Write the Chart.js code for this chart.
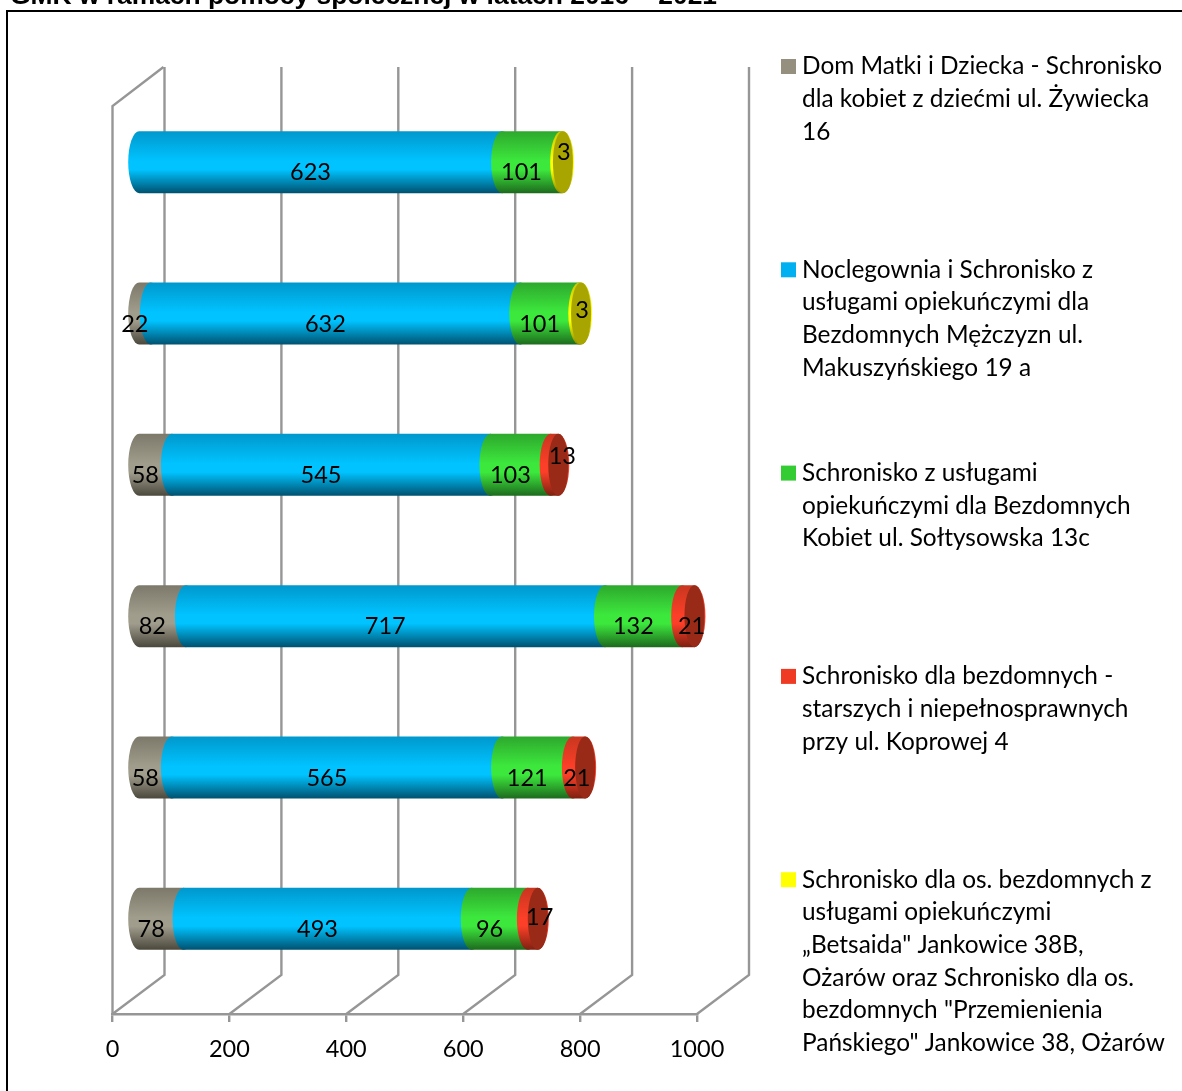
<!DOCTYPE html>
<html lang="pl">
<head>
<meta charset="utf-8">
<title>GMK</title>
<script src="https://cdn.jsdelivr.net/npm/chart.js@4"></script>
<style>html,body{margin:0;padding:0;background:#fff;overflow:hidden}canvas{display:block}</style>
</head>
<body>
<canvas id="c" width="1182" height="1091"></canvas>
<script>
const categories = ['2016','2017','2018','2019','2020','2021'];
const domMatki   = [78, 58, 82, 58, 22, null];
const noclegownia= [493, 565, 717, 545, 632, 623];
const soltysowska= [96, 121, 132, 103, 101, 101];
const koprowa    = [17, 21, 21, 13, null, null];
const betsaida   = [null, null, null, null, 3, 3];
const seriesNames = ['Dom Matki i Dziecka','Noclegownia i Schronisko','Schronisko Sołtysowska','Schronisko Koprowa','Betsaida'];
const chartTitle = 'GMK w ramach pomocy społecznej w latach 2016 – 2021';
const legendLines = [
  ['Dom Matki i Dziecka - Schronisko','dla kobiet z dziećmi ul. Żywiecka','16'],
  ['Noclegownia i Schronisko z','usługami opiekuńczymi dla','Bezdomnych Mężczyzn ul.','Makuszyńskiego 19 a'],
  ['Schronisko z usługami','opiekuńczymi dla Bezdomnych','Kobiet ul. Sołtysowska 13c'],
  ['Schronisko dla bezdomnych -','starszych i niepełnosprawnych','przy ul. Koprowej 4'],
  ['Schronisko dla os. bezdomnych z','usługami opiekuńczymi','„Betsaida" Jankowice 38B,','Ożarów oraz Schronisko dla os.','bezdomnych "Przemienienia','Pańskiego" Jankowice 38, Ożarów']
];
const swatches = ['#948f7e','#00b0f0','#33cc33','#ef3b24','#ffff00'];
const shades = [
  ['#7c796a','#a09d8d','#4a473c'],
  ['#0098cc','#00c3ff','#00516f'],
  ['#2da82d','#3de83d','#1d6a1d'],
  ['#c8361f','#fb3f28','#7e2010'],
  ['#c8c800','#ffff00','#8a8a00']
];
const capColors = ['#6f6c5e','#00739e','#1f8a1f','#982a17','#a9a500'];
const labelNudge = {'3:0':[17,-12],'3:1':[8,0],'3:2':[13.4,0],'3:3':[18,-19],'4:4':[12,-14],'4:5':[12,-20]};

const FONT = 'Lato, Carlito, sans-serif';
const GRID = '#969696';
const DEPTH_X = 52, DEPTH_Y = 39, RX = 11;
const BAR_DX = 25.5, BAR_DY = 19.5;

const scene = {
  id: 'scene',
  beforeDraw(chart) {
    const c = chart.ctx;
    c.save();
    c.fillStyle = '#fff'; c.fillRect(0,0,chart.width,chart.height);
    c.strokeStyle = '#000'; c.lineWidth = 2;
    c.beginPath(); c.moveTo(7,chart.height+2); c.lineTo(7,11); c.lineTo(chart.width+2,11); c.stroke();
    c.fillStyle = '#000'; c.font = 'bold 26.4px "Liberation Sans", Arial, sans-serif';
    c.textBaseline = 'alphabetic'; c.textAlign = 'left';
    c.fillText(chartTitle, 10, 4);
    c.restore();
  },
  beforeDatasetsDraw(chart) {
    const c = chart.ctx, a = chart.chartArea, xs = chart.scales.x;
    c.save();
    c.strokeStyle = GRID; c.lineWidth = 2.4; c.lineJoin = 'miter';
    xs.ticks.forEach((t, i) => {
      const x = xs.getPixelForTick(i);
      c.beginPath();
      c.moveTo(x, a.bottom);
      c.lineTo(x + DEPTH_X, a.bottom - DEPTH_Y);
      c.lineTo(x + DEPTH_X, a.top - DEPTH_Y);
      c.stroke();
    });
    c.beginPath();
    c.moveTo(a.left, a.bottom);
    c.lineTo(a.left, a.top);
    c.lineTo(a.left + 51, a.top - DEPTH_Y);
    c.stroke();
    // cylinders: first series first, so each next one overlaps the previous
    const n = chart.data.labels.length;
    const last = new Array(n).fill(-1);
    chart.data.datasets.forEach((d, s) => d.data.forEach((v, i) => { if (v != null) last[i] = s; }));
    chart.data.datasets.forEach((d, s) => {
      chart.getDatasetMeta(s).data.forEach((el, i) => {
        if (d.data[i] == null) return;
        const cy = el.y - BAR_DY, ry = el.height / 2, x0 = el.base + BAR_DX, x1 = el.x + BAR_DX;
        const g = c.createLinearGradient(0, cy - ry, 0, cy + ry);
        g.addColorStop(0, shades[s][0]);
        g.addColorStop(0.48, shades[s][1]);
        g.addColorStop(0.62, shades[s][1]);
        g.addColorStop(1, shades[s][2]);
        c.fillStyle = g;
        c.beginPath();
        c.ellipse(x0, cy, RX, ry, 0, -Math.PI/2, Math.PI/2, true);
        c.lineTo(x1, cy + ry);
        c.ellipse(x1, cy, RX, ry, 0, Math.PI/2, -Math.PI/2, true);
        c.closePath();
        c.fill();
        if (last[i] === s) {
          c.fillStyle = capColors[s];
          c.beginPath();
          c.ellipse(x1, cy, RX - 1, ry, 0, 0, Math.PI*2);
          c.fill();
        }
      });
    });
    // value labels
    c.fillStyle = '#000'; c.font = '23.5px ' + FONT;
    c.textAlign = 'center'; c.textBaseline = 'middle';
    chart.data.datasets.forEach((d, s) => {
      chart.getDatasetMeta(s).data.forEach((el, i) => {
        if (d.data[i] == null) return;
        const nudge = labelNudge[s + ':' + i] || [0,0];
        c.fillText(String(d.data[i]), (el.x + el.base)/2 + 15.3 + nudge[0], el.y - 9 + nudge[1]);
      });
    });
    c.restore();
    return false;
  },
  afterDraw(chart) {
    const c = chart.ctx;
    c.save();
    c.font = '24.4px ' + FONT; c.textAlign = 'left'; c.textBaseline = 'middle';
    legendLines.forEach((lines, s) => {
      const y0 = 66 + s * 203.3;
      c.fillStyle = swatches[s];
      c.fillRect(781, y0 - 7, 15, 15);
      c.fillStyle = '#000';
      lines.forEach((t, j) => c.fillText(t, 802, y0 + 0.5 + j * 32.7));
    });
    c.restore();
  }
};

new Chart(document.getElementById('c'), {
  type: 'bar',
  data: {
    labels: categories,
    datasets: [domMatki, noclegownia, soltysowska, koprowa, betsaida].map((data, s) => ({
      label: seriesNames[s], data, backgroundColor: swatches[s],
      barPercentage: 0.41, categoryPercentage: 1
    }))
  },
  options: {
    indexAxis: 'y', responsive: false, animation: false, devicePixelRatio: 1,
    layout: { padding: { left: 112.5, right: 485, top: 106, bottom: 0 } },
    plugins: { legend: { display: false }, title: { display: false }, tooltip: { enabled: false } },
    scales: {
      x: {
        stacked: true, min: 0, max: 1000,
        afterFit(s) { s.height = 77; },
        ticks: { stepSize: 200, color: '#000', font: { family: FONT, size: 23.5 }, padding: 13, maxRotation: 0, callback: v => String(v) },
        grid: { drawOnChartArea: false, drawTicks: true, tickLength: 8, color: GRID, lineWidth: 2.4 },
        border: { display: true, color: GRID, width: 2.4 }
      },
      y: { stacked: true, reverse: true, display: false }
    }
  },
  plugins: [scene]
});
</script>
</body>
</html>
